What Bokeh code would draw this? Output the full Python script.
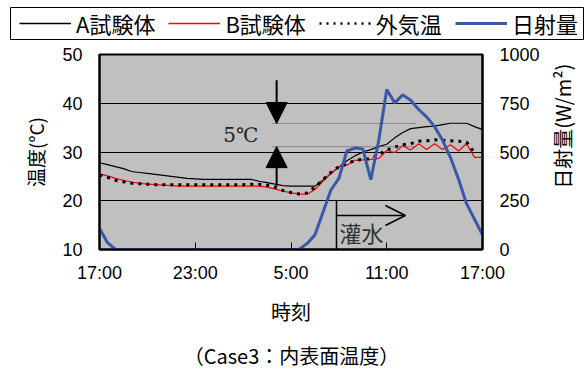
import math
from bokeh.plotting import figure
from bokeh.layouts import column, row
from bokeh.models import (Range1d, LinearAxis, FixedTicker, Legend, LegendItem,
                          Label, Arrow, NormalHead, OpenHead, BoxAnnotation)
from bokeh.embed import file_html
from bokeh.resources import INLINE

# ---- data (half-hourly, hours since 17:00) ----
hours = [0, 0.5, 1, 1.5, 2, 2.5, 3, 3.5, 4, 4.5, 5, 5.5, 6, 6.5, 7, 7.5, 8, 8.5,
         9, 9.5, 10, 10.5, 11, 11.5, 12, 12.5, 13, 13.5, 14, 14.5, 15, 15.5, 16,
         16.5, 17, 17.5, 18, 18.5, 19, 19.5, 20, 20.5, 21, 21.5, 22, 22.5, 23, 23.5, 24]

temp_A = [27.8, 27.4, 27.0, 26.6, 26.0, 25.8, 25.6, 25.4, 25.2, 25.0, 24.8, 24.6,
          24.5, 24.4, 24.4, 24.4, 24.4, 24.4, 24.4, 24.4, 24.0, 23.7, 23.4, 23.1,
          23.0, 23.0, 23.0, 23.0, 24.2, 25.6, 26.9, 28.2, 29.2, 30.0, 30.5, 31.1,
          31.6, 32.9, 34.0, 34.8, 35.0, 35.2, 35.3, 35.6, 35.9, 35.9, 35.9, 35.2, 34.6]

temp_B = [25.5, 25.1, 24.6, 24.2, 23.8, 23.6, 23.4, 23.3, 23.2, 23.1, 23.0, 23.0,
          23.0, 23.0, 23.0, 23.0, 23.0, 23.0, 23.0, 23.0, 23.0, 22.8, 22.4, 22.0,
          21.6, 21.4, 21.3, 22.3, 24.0, 25.6, 27.0, 27.3, 28.3, 28.4, 28.5, 28.7,
          30.3, 29.9, 31.3, 30.4, 31.7, 30.5, 31.7, 30.5, 31.5, 30.2, 31.7, 28.9, 28.9]

temp_out = [25.3, 24.8, 24.2, 23.9, 23.6, 23.5, 23.4, 23.3, 23.3, 23.3, 23.3, 23.3,
            23.3, 23.3, 23.3, 23.3, 23.3, 23.3, 23.3, 23.4, 23.4, 23.2, 22.8, 22.1,
            21.7, 21.4, 21.6, 22.8, 24.3, 25.8, 27.0, 27.5, 28.3, 28.5, 28.6, 29.5,
            30.4, 31.0, 31.5, 31.7, 32.2, 32.3, 32.5, 32.4, 32.3, 32.2, 32.0, 29.8, float("nan")]

solar = [109, 35, 0, 0, 0, 0, 0, 0, 0, 0, 0, 0, 0, 0, 0, 0, 0, 0, 0, 0, 0, 0, 0, 0,
         0, 0, 30, 75, 190, 305, 365, 505, 520, 516, 358, 560, 820, 752, 793, 765,
         718, 680, 630, 560, 470, 360, 235, 155, 75]

x_ticks = [0, 6, 12, 18, 24]
x_tick_labels = ["17:00", "23:00", "5:00", "11:00", "17:00"]
temp_ticks = [10, 20, 30, 40, 50]
solar_ticks = [0, 250, 500, 750, 1000]

series_names = ["A試験体", "B試験体", "外気温", "日射量"]

# annotation positions (hours / °C)
diff_x = 11.1
diff_top, diff_low = 35.85, 31.1
diff_line_x0, diff_line_x1 = 10.85, 19.85
irr_x, irr_y_top, irr_arrow_y, irr_arrow_x1 = 14.85, 20.05, 16.97, 19.17

JP = "Noto Sans CJK JP"
LAT = "Liberation Sans"

STY = {
    "A": dict(line_color="black", line_width=1.2),
    "B": dict(line_color="#FF0000", line_width=1.2),
    "O": dict(line_color="black", line_width=3, line_dash="3 5"),
    "S": dict(line_color="#3A57A8", line_width=3),
}

W = 586
LH, MH, CH = 40, 296, 33   # legend strip, main chart, caption strip heights
RW = 40                    # right axis title strip width
MW = W - RW

# ---------------- legend strip ----------------
pl = figure(width=W, height=LH, output_backend="svg", toolbar_location=None,
            x_range=Range1d(0, W), y_range=Range1d(0, LH),
            x_axis_location=None, y_axis_location=None, min_border=0)
pl.outline_line_color = None
pl.grid.visible = False
pl.background_fill_color = "white"
pl.add_layout(BoxAnnotation(left=10, right=583, bottom=1, top=33, fill_color="white",
                            fill_alpha=1, line_color="black", line_width=1, line_alpha=1))
# off-screen proxies that only supply the legend glyph styles
dA = pl.line([-20, -10], [-20, -10], line_color="black", line_width=1.3)
dB = pl.line([-20, -10], [-20, -10], line_color="#FF0000", line_width=1.6)
dO = pl.line([-20, -10], [-20, -10], line_color="black", line_width=2.5, line_dash="2 5")
dS = pl.line([-20, -10], [-20, -10], line_color="#3A57A8", line_width=3)
legend = Legend(items=[LegendItem(label=series_names[0], renderers=[dA]),
                       LegendItem(label=series_names[1], renderers=[dB]),
                       LegendItem(label=series_names[2], renderers=[dO]),
                       LegendItem(label=series_names[3], renderers=[dS])],
                orientation="horizontal", location=(19, 1))
legend.label_text_font = JP
legend.label_text_font_size = "22px"
legend.label_text_color = "black"
legend.glyph_width = 52
legend.glyph_height = 20
legend.label_standoff = 5
legend.spacing = 13
legend.padding = 0
legend.margin = 0
legend.border_line_color = None
legend.background_fill_alpha = 0
pl.add_layout(legend)

# ---------------- main chart ----------------
p = figure(width=MW, height=MH, output_backend="svg", toolbar_location=None,
           x_range=Range1d(0, 24), y_range=Range1d(10, 50),
           min_border_left=99, min_border_right=MW - 482, min_border_top=14,
           min_border_bottom=87)
p.extra_y_ranges = {"rad": Range1d(0, 1000)}
p.background_fill_color = "#C0C0C0"
p.border_fill_color = "white"
p.outline_line_color = "black"
p.outline_line_width = 2

p.xgrid.visible = False
p.ygrid.grid_line_color = "black"
p.ygrid.grid_line_width = 1
p.ygrid.ticker = FixedTicker(ticks=temp_ticks)

xa = p.xaxis[0]
xa.ticker = FixedTicker(ticks=x_ticks)
xa.major_label_overrides = {t: l for t, l in zip(x_ticks, x_tick_labels)}
xa.major_tick_in = 7
xa.major_tick_out = 0
xa.minor_tick_line_color = None
xa.axis_line_width = 2
xa.major_label_text_font = LAT
xa.major_label_text_font_size = "18px"
xa.major_label_text_color = "black"
xa.major_label_standoff = 13
xa.axis_label = "時刻"
xa.axis_label_text_font = JP
xa.axis_label_text_font_size = "20px"
xa.axis_label_text_font_style = "normal"
xa.axis_label_text_color = "black"
xa.axis_label_standoff = 11

ya = p.yaxis[0]
ya.ticker = FixedTicker(ticks=temp_ticks)
ya.major_tick_in = 0
ya.major_tick_out = 0
ya.minor_tick_line_color = None
ya.axis_line_width = 2
ya.major_label_text_font = LAT
ya.major_label_text_font_size = "18px"
ya.major_label_text_color = "black"
ya.major_label_standoff = 17
ya.axis_label = "温度(°C)"
ya.axis_label_text_font = JP
ya.axis_label_text_font_size = "19px"
ya.axis_label_text_font_style = "normal"
ya.axis_label_text_color = "black"
ya.axis_label_standoff = 10

ra = LinearAxis(y_range_name="rad", ticker=FixedTicker(ticks=solar_ticks))
ra.major_tick_in = 0
ra.major_tick_out = 0
ra.minor_tick_line_color = None
ra.axis_line_width = 2
ra.major_label_text_font = LAT
ra.major_label_text_font_size = "18px"
ra.major_label_text_color = "black"
ra.major_label_standoff = 17
p.add_layout(ra, "right")

p.line(hours, temp_A, **STY["A"])
p.line(hours, temp_B, **STY["B"])
p.line(hours, temp_out, **STY["O"])
p.line(hours, solar, y_range_name="rad", **STY["S"])

# 5℃ annotation
p.segment(x0=[diff_line_x0, diff_line_x0], y0=[diff_top, diff_low],
          x1=[diff_line_x1, diff_line_x1], y1=[diff_top, diff_low],
          line_color="#555555", line_width=1, line_dash="1 1")
p.add_layout(Arrow(end=NormalHead(size=21, fill_color="black", line_color="black"),
                   x_start=diff_x, y_start=44.7, x_end=diff_x, y_end=diff_top,
                   line_width=2, line_color="black"))
p.add_layout(Arrow(end=NormalHead(size=21, fill_color="black", line_color="black"),
                   x_start=diff_x, y_start=23.1, x_end=diff_x, y_end=diff_low,
                   line_width=2, line_color="black"))
p.add_layout(Label(x=8.85, y=33.4, text="5℃", text_align="center",
                   text_baseline="middle", text_font="DejaVu Serif",
                   text_font_size="20px", text_color="#222222"))

# irrigation annotation
p.segment(x0=[irr_x], y0=[10], x1=[irr_x], y1=[irr_y_top], line_color="black", line_width=1.5)
p.add_layout(Arrow(end=OpenHead(size=20, line_width=1.5, line_color="black"),
                   x_start=irr_x, y_start=irr_arrow_y, x_end=irr_arrow_x1, y_end=irr_arrow_y,
                   line_width=1.5, line_color="black"))
p.add_layout(Label(x=irr_x, x_offset=3, y=13.5, text="灌水", text_align="left",
                   text_baseline="middle", text_font=JP,
                   text_font_size="22px", text_color="#333333"))

# ---------------- right axis title strip ----------------
pr = figure(width=RW, height=MH, output_backend="svg", toolbar_location=None,
            x_range=Range1d(0, RW), y_range=Range1d(0, MH),
            x_axis_location=None, y_axis_location=None, min_border=0)
pr.outline_line_color = None
pr.grid.visible = False
pr.background_fill_color = "white"
pr.add_layout(Label(x=16, y=MH - 109, text="日射量(W/m²)", angle=math.pi / 2,
                    text_align="center", text_baseline="middle", text_font=JP,
                    text_font_size="20px", text_color="black"))

# ---------------- caption strip ----------------
pc = figure(width=W, height=CH, output_backend="svg", toolbar_location=None,
            x_range=Range1d(0, W), y_range=Range1d(0, CH),
            x_axis_location=None, y_axis_location=None, min_border=0)
pc.outline_line_color = None
pc.grid.visible = False
pc.background_fill_color = "white"
pc.add_layout(Label(x=291, y=14, text="（Case3：内表面温度）", text_align="center",
                    text_baseline="middle", text_font=JP, text_font_size="20px",
                    text_color="black"))

layout = column(pl, row(p, pr, spacing=0), pc, spacing=0)
open("out.html", "w").write(file_html(layout, INLINE))
